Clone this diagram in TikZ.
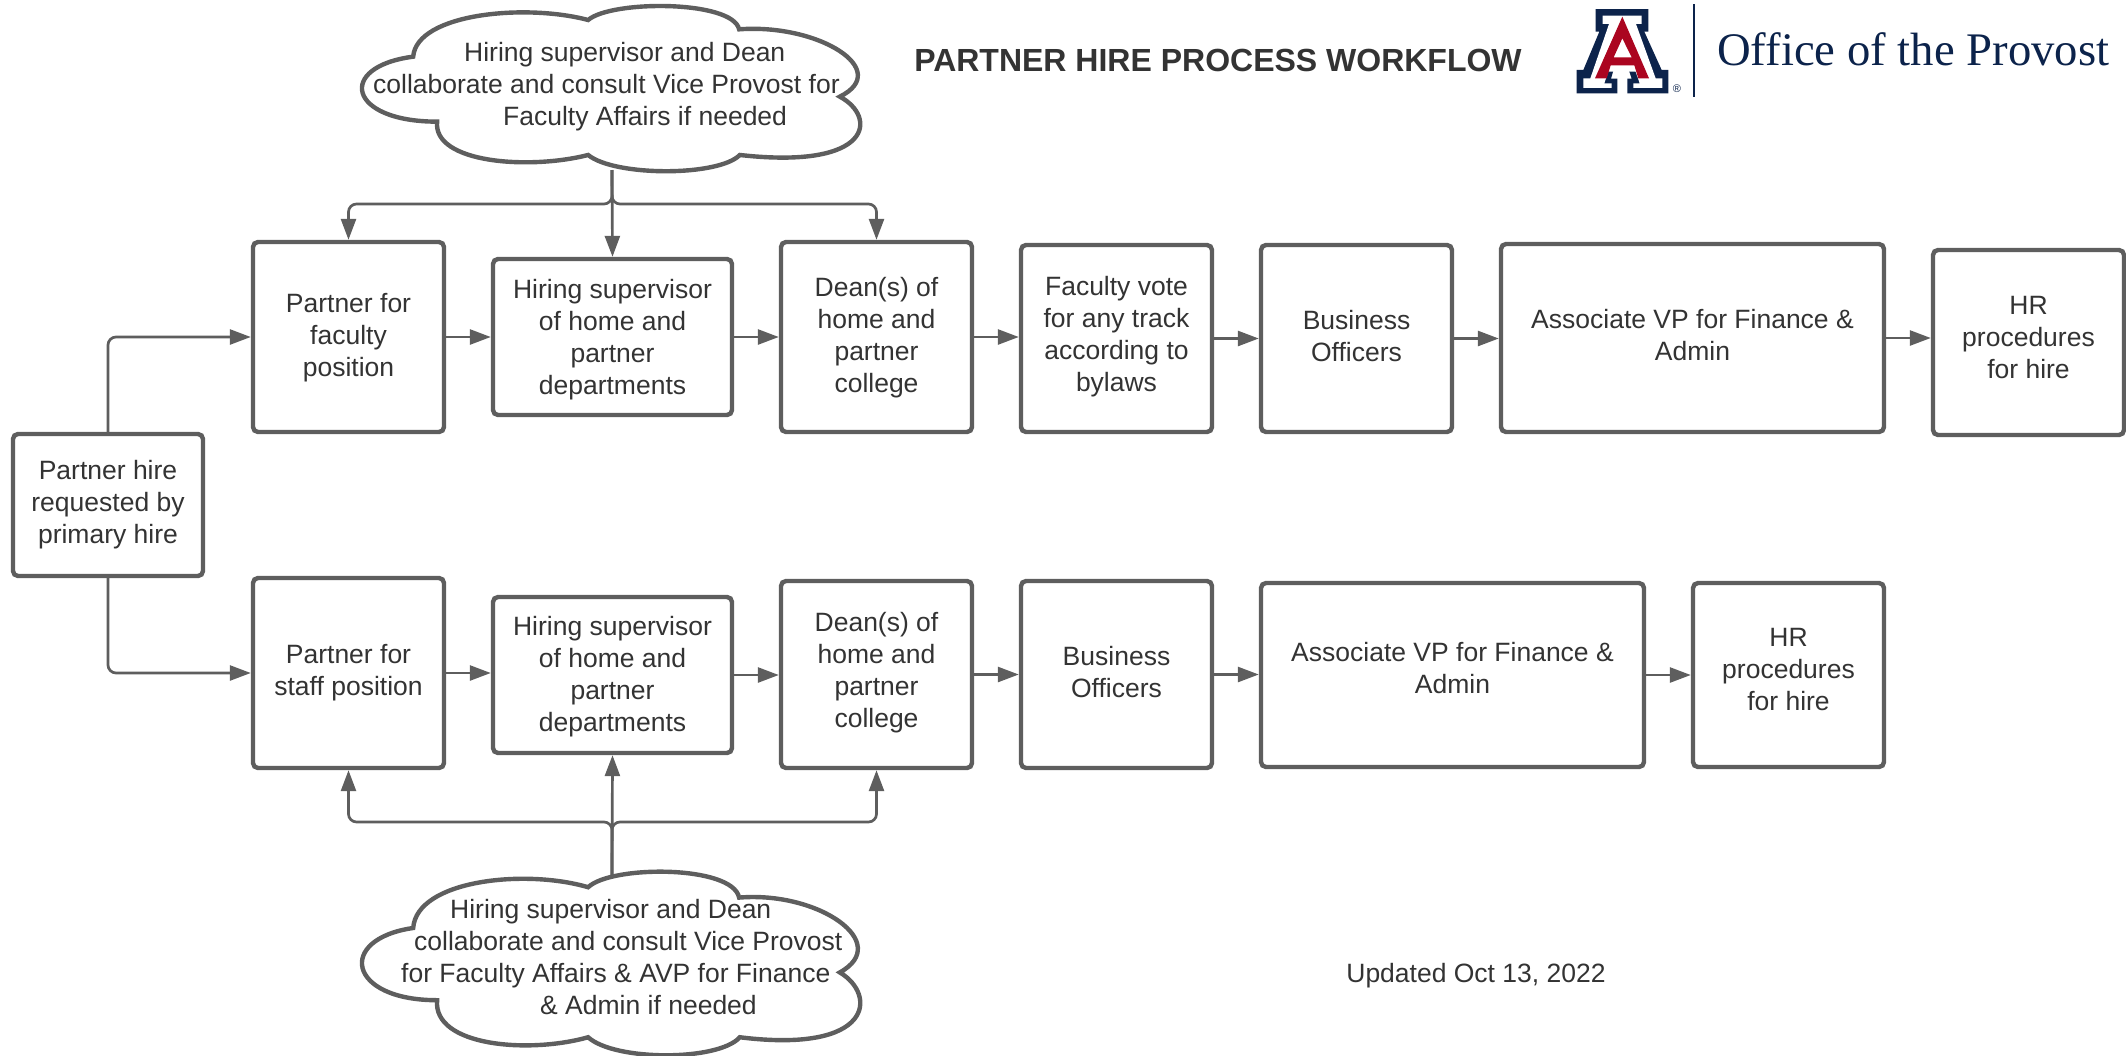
\documentclass[tikz,border=0pt]{standalone}
\usepackage{fontspec}
\usepackage{graphicx}
\setmainfont{Liberation Sans}
\newfontfamily\logofont{Liberation Serif}
\usetikzlibrary{arrows.meta}
\definecolor{ln}{HTML}{5E5E5E}
\definecolor{tx}{HTML}{333333}
\definecolor{navy}{HTML}{0C234B}
\definecolor{azred}{HTML}{AB0520}
\tikzset{
  bx/.style={draw=ln,line width=4.4pt,rounded corners=5pt,fill=white,inner sep=0pt},
  txt/.style={text=tx,align=center,inner sep=0pt,font=\fontsize{26.5}{32}\selectfont},
  ctxt/.style={text=tx,align=left,inner sep=0pt,anchor=west,font=\fontsize{26.5}{32}\selectfont},
  arr/.style={draw=ln,line width=2.7pt,-{Triangle[length=21pt,width=15pt]}},
  elbow/.style={arr,rounded corners=8pt},
  cloudline/.style={draw=ln,line width=4.4pt,fill=white,line join=miter},
}
\newcommand{\bxx}[7]{%
  \pgfmathsetmacro{\bw}{#4-#2-2}\pgfmathsetmacro{\bh}{#5-#3-2}%
  \node[bx,minimum width=\bw pt,minimum height=\bh pt] (#1) at ({(#2+#4)/2},{(#3+#5)/2}) {};
  \node[txt] (#1t) at ({(#2+#4)/2},{#6+2.5}) {\strut #7\strut};
}
\newcommand{\cloudshape}{(205,170) .. controls (215,40) and (520,10) .. (695,60)
  .. controls (760,0) and (1100,0) .. (1118,88)
  .. controls (1340,70) and (1550,210) .. (1400,290)
  .. controls (1505,350) and (1495,510) .. (1120,465)
  .. controls (1060,530) and (770,530) .. (695,465)
  .. controls (530,510) and (260,490) .. (272,365)
  .. controls (20,365) and (-10,200) .. (205,170) -- cycle}
\begin{document}
\begin{tikzpicture}[x=1pt,y=-1pt]
\useasboundingbox (0,0) rectangle (2126,1055);
% clouds
\draw[cloudline,shift={(340,0)},xscale=.357,yscale=.3333] \cloudshape;
\draw[cloudline,shift={(340,865)},xscale=.357,yscale=.3704] \cloudshape;
\coordinate (cloudA) at (612,170);
\coordinate (cloudB) at (612,875);
\coordinate (busA) at (612,204);
\coordinate (busB) at (612,822);
\node[ctxt] (cloudAt) at (373,87) {\hspace*{91pt}\strut Hiring supervisor and Dean\\collaborate and consult Vice Provost for\\\hspace*{130pt}Faculty Affairs if needed\strut};
\node[ctxt] (cloudBt) at (401,960) {\hspace*{49pt}\strut Hiring supervisor and Dean\\\hspace*{13pt}collaborate and consult Vice Provost\\for Faculty Affairs \& AVP for Finance\\\hspace*{139pt}\& Admin if needed\strut};
% boxes
\bxx{hire}{12}{433}{204}{577}{503}{Partner hire\\requested by\\primary hire}
\bxx{pf}{252}{241}{445}{433}{336}{Partner for\\faculty\\position}
\bxx{hs}{492}{258}{733}{416}{338}{Hiring supervisor\\of home and\\partner\\departments}
\bxx{de}{780}{241}{973}{433}{336}{Dean(s) of\\home and\\partner\\college}
\bxx{fv}{1020}{244}{1213}{433}{335}{Faculty vote\\for any track\\according to\\bylaws}
\bxx{bo}{1260}{244}{1453}{433}{337}{Business\\Officers}
\bxx{av}{1500}{243}{1885}{433}{336}{Associate VP for Finance \&\\Admin}
\bxx{hr}{1932}{249}{2125}{436}{338}{HR\\procedures\\for hire}
\bxx{ps}{252}{577}{445}{769}{671}{Partner for\\staff position}
\bxx{hsb}{492}{596}{733}{754}{675}{Hiring supervisor\\of home and\\partner\\departments}
\bxx{deb}{780}{580}{973}{769}{671}{Dean(s) of\\home and\\partner\\college}
\bxx{bob}{1020}{580}{1213}{769}{673}{Business\\Officers}
\bxx{avb}{1260}{582}{1645}{768}{669}{Associate VP for Finance \&\\Admin}
\bxx{hrb}{1692}{582}{1885}{768}{670}{HR\\procedures\\for hire}
% connectors
\draw[elbow] (hire.north) |- (pf.west);
\draw[elbow] (hire.south) |- (ps.west);
\foreach \a/\b in {pf/hs,hs/de,de/fv,fv/bo,bo/av,av/hr,ps/hsb,hsb/deb,deb/bob,bob/avb,avb/hrb}
  \draw[arr] (\a.east) -- (\a.east -| \b.west);
\draw[arr] (cloudA) -- (hs.north);
\draw[elbow] (cloudA) -- (busA) -| (pf.north);
\draw[elbow] (cloudA) -- (busA) -| (de.north);
\draw[arr] (cloudB) -- (hsb.south);
\draw[elbow] (cloudB) -- (busB) -| (ps.south);
\draw[elbow] (cloudB) -- (busB) -| (deb.south);
% title and note
\node[text=tx,inner sep=0pt,font=\fontsize{32}{38}\selectfont\bfseries] (title) at (1218,60) {PARTNER HIRE PROCESS WORKFLOW};
\node[text=tx,inner sep=0pt,font=\fontsize{26.5}{32}\selectfont] (upd) at (1476,976) {Updated Oct 13, 2022};
% logo
\begin{scope}[shift={(1565,0)},x=.3333pt,y=-.3333pt]
\fill[navy] (92,27)--(250,27)--(250,95)--(238,95)--(290,210)--(310,210)--(310,280)--(187,280)--(187,236)--(200,236)--(192,212)--(145,212)--(138,236)--(157,236)--(157,280)--(35,280)--(35,210)--(55,210)--(103,95)--(92,95)--cycle;
\fill[white] (113,47)--(230,47)--(230,72)--(213,72)--(272,235)--(292,235)--(292,264)--(205,264)--(205,250)--(224,250)--(212,215)--(130,215)--(118,250)--(140,250)--(140,264)--(55,264)--(55,235)--(76,235)--(132,72)--(113,72)--cycle;
\fill[azred,even odd rule] (172,50)--(252,235)--(220,235)--(208,196)--(137,196)--(125,235)--(90,235)--cycle (172,115)--(200,172)--(146,172)--cycle;
\end{scope}
\node[text=navy,inner sep=0pt,font=\fontsize{11}{12}\selectfont] (reg) at (1677,89) {®};
\draw[navy,line width=2pt] (1694,4) -- (1694,97);
\node[anchor=base west,inner sep=0pt,text=navy] (office) at (1717,65) {\resizebox{392pt}{!}{\logofont\fontsize{45}{50}\selectfont Office of the Provost}};
\end{tikzpicture}
\end{document}
